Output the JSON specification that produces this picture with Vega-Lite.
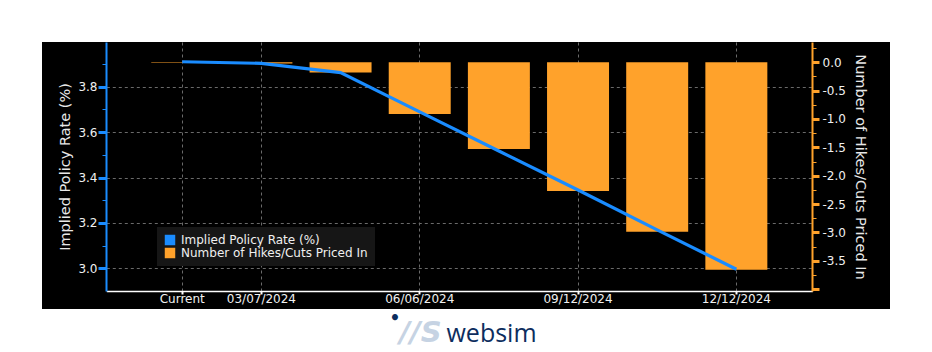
{
  "$schema": "https://vega.github.io/schema/vega-lite/v6.json",
  "width": 848,
  "height": 267,
  "autosize": {"type": "none"},
  "padding": {"left": 42, "top": 42, "right": 42, "bottom": 43},
  "background": "#ffffff",
  "config": {
    "view": {"fill": "#000000", "stroke": null},
    "font": "DejaVu Sans",
    "axis": {"labelFont": "DejaVu Sans", "titleFont": "DejaVu Sans"}
  },
  "title": {
    "text": "•",
    "orient": "bottom",
    "frame": "group",
    "anchor": "middle",
    "dx": -71,
    "offset": -28,
    "baseline": "middle",
    "color": "#0d2d5e",
    "font": "DejaVu Sans",
    "fontSize": 17,
    "fontWeight": "bold"
  },
  "data": {
    "values": [
      {"date": "Current", "rate": 3.910, "hikes": -0.01},
      {"date": "03/07/2024", "rate": 3.903, "hikes": -0.02},
      {"date": "04/11/2024", "rate": 3.862, "hikes": -0.18},
      {"date": "06/06/2024", "rate": 3.689, "hikes": -0.91},
      {"date": "07/18/2024", "rate": 3.517, "hikes": -1.53},
      {"date": "09/12/2024", "rate": 3.345, "hikes": -2.27},
      {"date": "10/17/2024", "rate": 3.169, "hikes": -2.99},
      {"date": "12/12/2024", "rate": 2.996, "hikes": -3.66}
    ]
  },
  "layer": [
    {
      "mark": {"type": "bar", "color": "#ffa22b"},
      "encoding": {
        "x": {
          "field": "date",
          "type": "ordinal",
          "sort": null,
          "scale": {"range": [64.3, 770.3], "paddingInner": 0.217, "paddingOuter": 0.568},
          "axis": {
            "orient": "top",
            "values": ["Current", "03/07/2024", "06/06/2024", "09/12/2024", "12/12/2024"],
            "bandPosition": 0.5,
            "grid": true,
            "gridColor": "#6a6a6a",
            "gridDash": [3, 3],
            "gridWidth": 1,
            "domain": false,
            "ticks": false,
            "labels": false,
            "title": "//S",
            "titleX": 378,
            "titleY": 299,
            "titleAngle": 0,
            "titleAlign": "center",
            "titleBaseline": "alphabetic",
            "titleColor": "#c6d3e3",
            "titleFontSize": 29,
            "titleFontStyle": "italic",
            "titleFontWeight": "bold"
          }
        },
        "y": {
          "field": "hikes",
          "type": "quantitative",
          "scale": {"domain": [-4.034, 0.358], "range": [249, 0], "nice": false, "zero": false},
          "axis": {
            "orient": "right",
            "offset": -78,
            "values": [0.25, 0, -0.25, -0.5, -0.75, -1, -1.25, -1.5, -1.75, -2, -2.25, -2.5, -2.75, -3, -3.25, -3.5, -3.75, -4],
            "labelExpr": "abs(datum.value % 0.5) < 0.001 && datum.value > -3.9 ? replace(format(datum.value, '.1f'), '\u2212', '-') : ''",
            "grid": false,
            "domainColor": "#ffa22b",
            "domainWidth": 2,
            "tickColor": "#ffa22b",
            "tickSize": {"condition": {"test": "abs(datum.value % 0.5) < 0.001", "value": 7}, "value": 4},
            "tickWidth": {"condition": {"test": "abs(datum.value % 0.5) < 0.001", "value": 3}, "value": 1},
            "labelColor": "#f0f0f0",
            "labelFontSize": 12,
            "labelPadding": 3,
            "title": "Number of Hikes/Cuts Priced In",
            "titleColor": "#e8e8e8",
            "titleFontSize": 14.5,
            "titleFontWeight": "normal",
            "titlePadding": 7
          }
        },
        "color": {
          "datum": "Number of Hikes/Cuts Priced In",
          "scale": {
            "domain": ["Implied Policy Rate (%)", "Number of Hikes/Cuts Priced In"],
            "range": ["#1a8cff", "#ffa22b"]
          },
          "legend": {
            "orient": "none",
            "legendX": 115,
            "legendY": 185,
            "title": null,
            "fillColor": "#161616",
            "padding": 7,
            "symbolType": "square",
            "symbolSize": 110,
            "symbolStrokeWidth": 0,
            "labelColor": "#f0f0f0",
            "labelFontSize": 12,
            "labelFont": "DejaVu Sans",
            "labelLimit": 400,
            "labelOffset": 5,
            "rowPadding": 1,
            "encode": {
              "symbols": {
                "update": {
                  "fill": {"scale": "color", "field": "value"},
                  "stroke": {"value": "transparent"},
                  "shape": {"value": "square"}
                }
              }
            }
          }
        }
      }
    },
    {
      "mark": {"type": "line", "strokeWidth": 3.2},
      "encoding": {
        "x": {
          "field": "date",
          "type": "ordinal",
          "sort": null,
          "axis": {
            "orient": "bottom",
            "offset": -18,
            "values": ["Current", "03/07/2024", "06/06/2024", "09/12/2024", "12/12/2024"],
            "labelAngle": 0,
            "grid": false,
            "domainColor": "#ffffff",
            "domainWidth": 1.5,
            "tickColor": "#ffffff",
            "tickSize": 3,
            "tickWidth": 2,
            "labelColor": "#f0f0f0",
            "labelFontSize": 12,
            "labelPadding": -1,
            "title": "websim",
            "titleX": 449,
            "titleY": 50.7,
            "titleAngle": 0,
            "titleAlign": "center",
            "titleBaseline": "alphabetic",
            "titleColor": "#0d2d5e",
            "titleFont": "Open Sans",
            "titleFontSize": 25,
            "titleFontWeight": "normal"
          }
        },
        "y": {
          "field": "rate",
          "type": "quantitative",
          "scale": {"domain": [2.9, 3.997], "range": [249, 0], "nice": false, "zero": false},
          "axis": {
            "orient": "left",
            "offset": -64,
            "values": [3.0, 3.1, 3.2, 3.3, 3.4, 3.5, 3.6, 3.7, 3.8, 3.9],
            "labelExpr": "round(datum.value * 10) % 2 == 0 ? format(datum.value, '.1f') : ''",
            "grid": true,
            "gridColor": "#6a6a6a",
            "gridDash": [3, 3],
            "gridWidth": 1,
            "gridOpacity": {"condition": {"test": "round(datum.value * 10) % 2 == 0", "value": 1}, "value": 0},
            "domainColor": "#1a8cff",
            "domainWidth": 2,
            "tickColor": "#1a8cff",
            "tickSize": {"condition": {"test": "round(datum.value * 10) % 2 == 0", "value": 8}, "value": 4},
            "tickWidth": {"condition": {"test": "round(datum.value * 10) % 2 == 0", "value": 3}, "value": 1},
            "labelColor": "#f0f0f0",
            "labelFontSize": 12,
            "labelPadding": 1,
            "title": "Implied Policy Rate (%)",
            "titleColor": "#e8e8e8",
            "titleFontSize": 14.5,
            "titleFontWeight": "normal",
            "titlePadding": 5
          }
        },
        "color": {"datum": "Implied Policy Rate (%)"}
      }
    }
  ],
  "resolve": {"scale": {"y": "independent"}, "axis": {"x": "independent", "y": "independent"}}
}
